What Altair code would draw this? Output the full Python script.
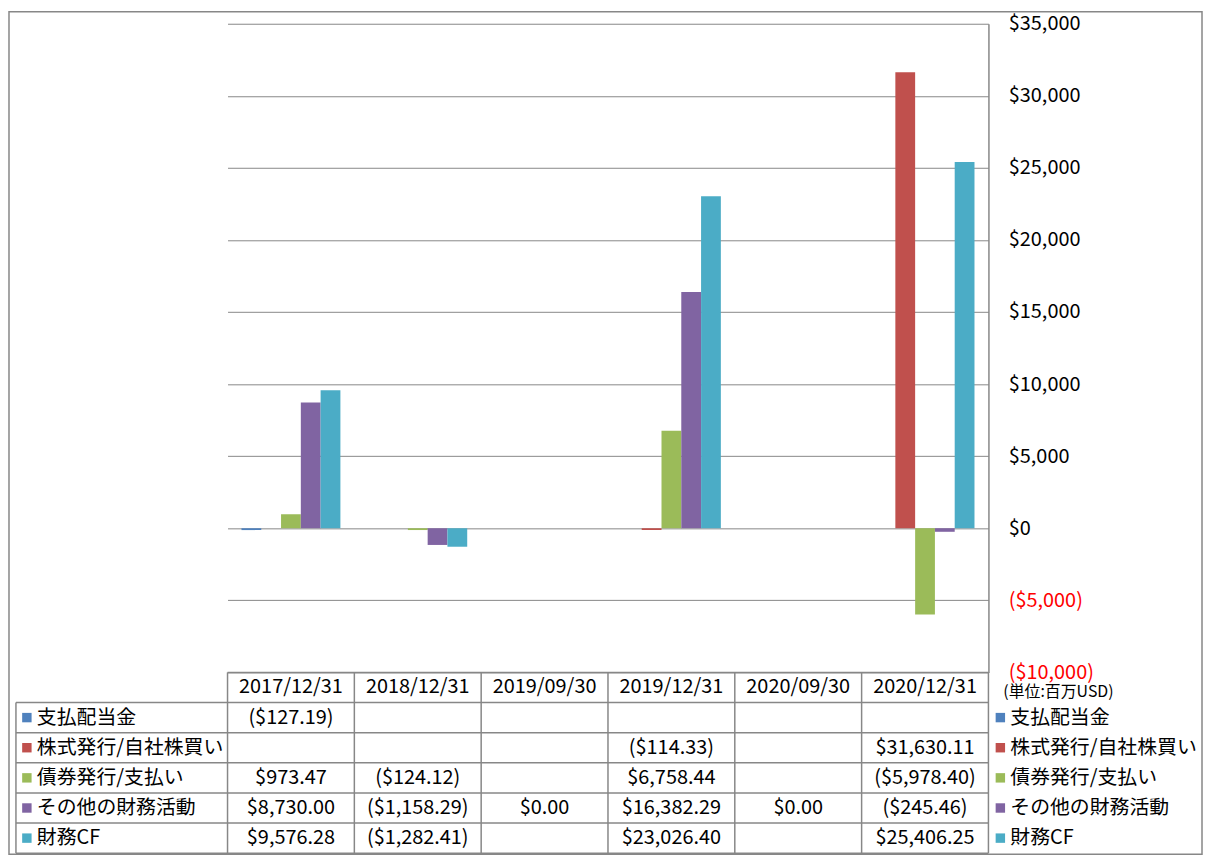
import altair as alt
import pandas as pd

# ---------------- data ----------------
dates = ["2017/12/31", "2018/12/31", "2019/09/30", "2019/12/31", "2020/09/30", "2020/12/31"]
series = ["支払配当金", "株式発行/自社株買い", "債券発行/支払い", "その他の財務活動", "財務CF"]
colors = ["#4F81BD", "#C0504D", "#9BBB59", "#8064A2", "#4BACC6"]

dividends = [-127.19, None, None, None, None, None]
stock_issue = [None, None, None, -114.33, None, 31630.11]
debt_issue = [973.47, -124.12, None, 6758.44, None, -5978.40]
other_fin = [8730.00, -1158.29, 0.00, 16382.29, 0.00, -245.46]
fin_cf = [9576.28, -1282.41, None, 23026.40, None, 25406.25]

y_ticks = [-10000, -5000, 0, 5000, 10000, 15000, 20000, 25000, 30000, 35000]
unit_label = "(単位:百万USD)"

values_by_series = [dividends, stock_issue, debt_issue, other_fin, fin_cf]


def fmt(v):
    s = f"${abs(v):,.2f}"
    return f"({s})" if v < 0 else s


rows = []
for name, vals in zip(series, values_by_series):
    for d, v in zip(dates, vals):
        if v is not None:
            rows.append({"date": d, "series": name, "value": v, "text": fmt(v)})
df = pd.DataFrame(rows)
df_series = pd.DataFrame({"series": series, "color": colors})
df_dates = pd.DataFrame({"date": dates})
row_names = ["header"] + series

# ---------------- style ----------------
FONT = "Noto Sans CJK JP"
GRID = "#878787"
W = 766
H_TOP = 653
H_TAB = 182

x_top = alt.X("date:N", sort=dates,
              scale=alt.Scale(domain=dates, paddingInner=0.22, paddingOuter=0.11),
              axis=None)

label_expr = ("datum.value < 0 ? '($' + format(-datum.value, ',') + ')' "
              ": '$' + format(datum.value, ',')")

y_top = alt.Y("value:Q",
              scale=alt.Scale(domain=[-10000, 35000], nice=False, zero=False),
              axis=alt.Axis(orient="right", values=y_ticks, labelExpr=label_expr,
                            labelColor={"condition": {"test": "datum.value < 0", "value": "#FF0000"},
                                        "value": "#000000"},
                            labelFont=FONT, labelFontSize=20, labelAlign="left",
                            labelPadding=20, ticks=False, grid=True, gridColor=GRID,
                            gridWidth=1, domain=True, domainColor=GRID, domainWidth=1.5,
                            title=None))

bars = alt.Chart(df).mark_bar().encode(
    x=x_top,
    xOffset=alt.XOffset("series:N", sort=series,
                        scale=alt.Scale(domain=series, paddingInner=0, paddingOuter=0)),
    y=y_top,
    color=alt.Color("series:N", scale=alt.Scale(domain=series, range=colors), legend=None),
)

border = alt.Chart(df_dates.head(1)).mark_rect(fill=None, stroke=GRID, strokeWidth=1.5).encode(
    x=alt.value(-220), x2=alt.value(981), y=alt.value(-12), y2=alt.value(H_TOP + H_TAB + 1),
)

top = alt.layer(bars, border).properties(width=W, height=H_TOP)

# ---------------- table ----------------
x_tab = alt.X("date:N", sort=dates,
              scale=alt.Scale(domain=dates, paddingInner=0, paddingOuter=0), axis=None)
y_scale = alt.Scale(domain=row_names, paddingInner=0, paddingOuter=0)

header = alt.Chart(df_dates).mark_text(font=FONT, fontSize=20, color="black").encode(
    x=x_tab, y=alt.Y(datum="header", scale=y_scale, axis=None), text="date:N")

cells = alt.Chart(df).mark_text(font=FONT, fontSize=20, color="black").encode(
    x=x_tab, y=alt.Y("series:N", scale=y_scale, axis=None, sort=row_names), text="text:N")

left_sq = alt.Chart(df_series).mark_square(size=90, opacity=1, filled=True).encode(
    x=alt.value(-202), y=alt.Y("series:N", scale=y_scale, axis=None),
    color=alt.Color("series:N", scale=alt.Scale(domain=series, range=colors), legend=None))
left_txt = alt.Chart(df_series).mark_text(font=FONT, fontSize=20, align="left", color="black").encode(
    x=alt.value(-192), y=alt.Y("series:N", scale=y_scale, axis=None), text="series:N")

right_sq = alt.Chart(df_series).mark_square(size=90, opacity=1, filled=True).encode(
    x=alt.value(778), y=alt.Y("series:N", scale=y_scale, axis=None),
    color=alt.Color("series:N", scale=alt.Scale(domain=series, range=colors), legend=None))
right_txt = alt.Chart(df_series).mark_text(font=FONT, fontSize=20, align="left", color="black").encode(
    x=alt.value(788), y=alt.Y("series:N", scale=y_scale, axis=None), text="series:N")

unit = alt.Chart(df_dates.head(1)).mark_text(font=FONT, fontSize=16, align="left", color="black", dy=5).encode(
    x=alt.value(781), y=alt.Y(datum="header", scale=y_scale, axis=None), text=alt.value(unit_label))

h_lines = alt.Chart(df_series).mark_rule(color=GRID, strokeWidth=1.5).encode(
    x=alt.value(-213), x2=alt.value(W),
    y=alt.Y("series:N", scale=y_scale, axis=None, bandPosition=0))
bottom_line = alt.Chart(df_dates.head(1)).mark_rule(color=GRID, strokeWidth=1.5).encode(
    x=alt.value(-213), x2=alt.value(W), y=alt.value(H_TAB))
top_line = alt.Chart(df_dates.head(1)).mark_rule(color=GRID, strokeWidth=1.5).encode(
    x=alt.value(0), x2=alt.value(W), y=alt.value(0))
v_lines = alt.Chart(df_dates).mark_rule(color=GRID, strokeWidth=1.5).encode(
    x=alt.X("date:N", sort=dates, scale=alt.Scale(domain=dates, paddingInner=0, paddingOuter=0),
            axis=None, bandPosition=0),
    y=alt.value(0), y2=alt.value(H_TAB))
right_line = alt.Chart(df_dates.head(1)).mark_rule(color=GRID, strokeWidth=1.5).encode(
    x=alt.value(W), y=alt.value(0), y2=alt.value(H_TAB))
left_line = alt.Chart(df_dates.head(1)).mark_rule(color=GRID, strokeWidth=1.5).encode(
    x=alt.value(-213), y=alt.value(H_TAB / 6), y2=alt.value(H_TAB))

table = alt.layer(h_lines, bottom_line, top_line, v_lines, right_line, left_line,
                  header, cells, left_sq, left_txt, right_sq, right_txt, unit
                  ).properties(width=W, height=H_TAB)

chart = alt.vconcat(top, table, spacing=0, bounds="flush").configure_view(
    stroke=None).properties(padding=0, background="white")

chart.save("out.html", embed_options={"renderer": "svg", "actions": False})
